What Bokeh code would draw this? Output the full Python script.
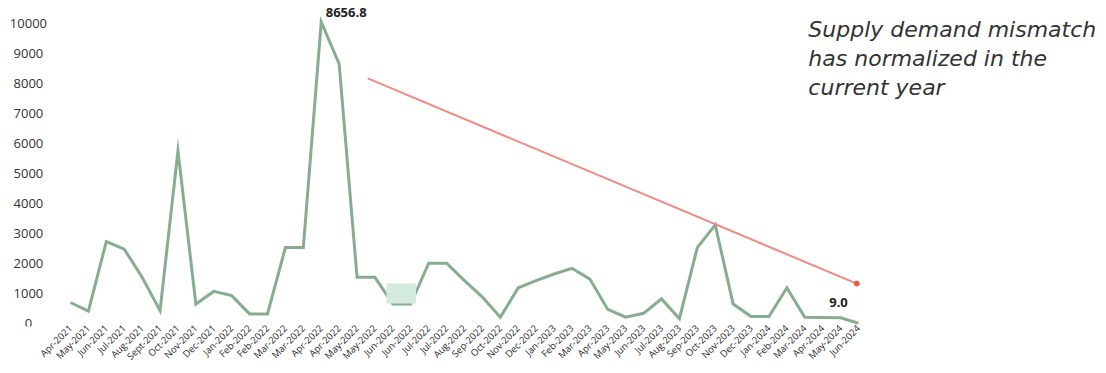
from bokeh.plotting import figure
from bokeh.models import Range1d, FixedTicker, ColumnDataSource, LabelSet
from bokeh.core.properties import value
from bokeh.embed import file_html
from bokeh.resources import INLINE
import math

# ---- data ----
months = ["Apr-2021", "May-2021", "Jun-2021", "Jul-2021", "Aug-2021", "Sept-2021",
          "Oct-2021", "Nov-2021", "Dec-2021", "Jan-2022", "Feb-2022", "Feb-2022",
          "Mar-2022", "Mar-2022", "Apr-2022", "Apr-2022", "May-2022", "May-2022",
          "Jun-2022", "Jun-2022", "Jul-2022", "Jul-2022", "Aug-2022", "Sep-2022",
          "Oct-2022", "Nov-2022", "Dec-2022", "Jan-2023", "Feb-2023", "Mar-2023",
          "Apr-2023", "May-2023", "Jun-2023", "Jul-2023", "Aug-2023", "Sep-2023",
          "Oct-2023", "Nov-2023", "Dec-2023", "Jan-2024", "Feb-2024", "Mar-2024",
          "Apr-2024", "May-2024", "Jun-2024"]
values = [700, 410, 2730, 2480, 1540, 430,
          5750, 650, 1070, 930, 320, 320,
          2530, 2530, 10050, 8656.8, 1540, 1540,
          650, 650, 2010, 2010, 1430, 880,
          210, 1190, 1430, 1650, 1840, 1480,
          470, 210, 340, 820, 160, 2530,
          3290, 650, 230, 230, 1190, 210,
          200, 190, 9.0]
y_ticks = [0, 1000, 2000, 3000, 4000, 5000, 6000, 7000, 8000, 9000, 10000]
labelled_points = [15, 44]          # indices whose value is written on the chart
trend_x = [16.6, 43.9]              # downward trend arrow (month index)
trend_y = [8170, 1330]
highlight_x = [17.65, 19.3]         # small highlight box
highlight_y = [667, 1333]
note = "Supply demand mismatch\nhas normalized in the\ncurrent year"

# ---- figure ----
x = list(range(len(months)))

p = figure(frame_width=1106, frame_height=326, output_backend="svg",
           toolbar_location=None,
           x_range=Range1d(-3.909, 57.848), y_range=Range1d(-100, 10767),
           min_border_left=0, min_border_right=0, min_border_top=0,
           min_border_bottom=0)
p.outline_line_color = None
p.background_fill_color = "white"
p.border_fill_color = "white"
p.grid.visible = False
p.yaxis.visible = False

xa = p.xaxis[0]
xa.ticker = FixedTicker(ticks=x)
xa.major_label_overrides = {i: m for i, m in enumerate(months)}
xa.major_label_orientation = math.pi / 4
xa.axis_line_color = None
xa.major_tick_line_color = None
xa.minor_tick_line_color = None
xa.major_tick_out = 0
xa.major_tick_in = 0
xa.major_label_standoff = 0
xa.major_label_text_font = "Open Sans"
xa.major_label_text_font_size = "9.5px"
xa.major_label_text_color = "#2a2a2a"

# y tick labels (centered, like the reference)
ysrc = ColumnDataSource(dict(x=[-2.35] * len(y_ticks), y=y_ticks,
                             t=[str(t) for t in y_ticks]))
p.add_layout(LabelSet(x="x", y="y", text="t", source=ysrc,
                      text_font=value("Open Sans"), text_font_size=value("13px"),
                      text_color=value("#333333"), text_align="center",
                      text_baseline="middle"))

# main series
p.line(x, values, line_color="#87ad90", line_width=3, line_join="miter")

# highlight box
p.quad(left=[highlight_x[0]], right=[highlight_x[1]], bottom=[highlight_y[0]],
       top=[highlight_y[1]], fill_color="#d4ebdf", line_color=None)

# trend line
p.line(trend_x, trend_y, line_color="#f08a82", line_width=2)
p.scatter([trend_x[1]], [trend_y[1]], size=5, color="#f2584a")

# value labels
src = ColumnDataSource(dict(x=[x[i] for i in labelled_points],
                            y=[values[i] for i in labelled_points],
                            t=[f"{values[i]:.1f}" for i in labelled_points],
                            xo=[7, -20], yo=[-51, -21]))
p.text(x="x", y="y", text="t", x_offset="xo", y_offset="yo", source=src,
       text_font=value("Open Sans"), text_font_size="13px", text_font_style="bold",
       text_color="#222222", text_align="center", text_baseline="middle")

# note
p.text(x=[41.2], y=[10230], text=[note], text_font=value("DejaVu Sans"),
       text_font_size="22px", text_font_style="italic", text_color="#333333",
       text_align="left", text_baseline="top", text_line_height=1.17)

open("out.html", "w").write(file_html(p, INLINE))
